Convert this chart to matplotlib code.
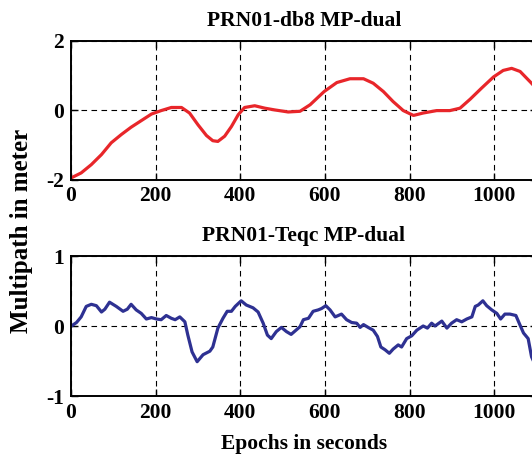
import numpy as np
import matplotlib
matplotlib.use('Agg')
from matplotlib import pyplot as plt

# PRN01-db8 MP-dual
db8_t = [1, 24, 48, 72, 95, 119, 142, 166, 190, 213, 237, 261, 280, 300, 320,
         335, 347, 363, 379, 395, 410, 434, 458, 481, 513, 541, 565, 598, 628,
         659, 691, 714, 738, 761, 785, 809, 832, 864, 895, 919, 943, 970, 998,
         1021, 1041, 1061, 1088, 1100]
db8_mp = [-1.95, -1.81, -1.57, -1.28, -0.94, -0.70, -0.49, -0.30, -0.11, -0.01,
          0.08, 0.08, -0.08, -0.42, -0.73, -0.88, -0.90, -0.75, -0.47, -0.13,
          0.08, 0.13, 0.06, 0.01, -0.05, -0.03, 0.16, 0.54, 0.80, 0.91, 0.91,
          0.78, 0.54, 0.25, -0.01, -0.15, -0.08, -0.01, -0.01, 0.06, 0.32,
          0.64, 0.96, 1.15, 1.21, 1.12, 0.78, 0.62]

# PRN01-Teqc MP-dual
teqc_t = [1, 13, 24, 36, 48, 60, 72, 80, 91, 107, 123, 133, 142, 154, 166, 178,
          190, 202, 213, 225, 237, 246, 257, 269, 276, 286, 298, 312, 328, 335,
          347, 359, 369, 379, 388, 402, 414, 430, 442, 454, 464, 473, 485, 497,
          509, 520, 541, 549, 561, 572, 584, 592, 602, 612, 624, 639, 651, 663,
          675, 683, 691, 702, 714, 724, 732, 742, 752, 761, 773, 781, 793, 805,
          817, 832, 842, 852, 860, 876, 888, 899, 911, 923, 935, 947, 955, 962,
          973, 982, 994, 1006, 1015, 1025, 1037, 1051, 1061, 1069, 1080, 1088,
          1100]
teqc_mp = [0.00, 0.05, 0.13, 0.28, 0.31, 0.29, 0.20, 0.24, 0.34, 0.28, 0.21,
           0.24, 0.31, 0.23, 0.18, 0.10, 0.12, 0.10, 0.09, 0.15, 0.11, 0.09,
           0.13, 0.06, -0.13, -0.37, -0.51, -0.41, -0.36, -0.30, -0.03, 0.11,
           0.21, 0.21, 0.28, 0.36, 0.30, 0.26, 0.20, 0.04, -0.13, -0.18, -0.08,
           -0.02, -0.08, -0.12, -0.01, 0.09, 0.11, 0.21, 0.23, 0.25, 0.29, 0.23,
           0.13, 0.17, 0.09, 0.05, 0.04, -0.02, 0.02, -0.02, -0.06, -0.15,
           -0.30, -0.34, -0.39, -0.33, -0.27, -0.30, -0.18, -0.14, -0.06, 0.00,
           -0.03, 0.04, 0.00, 0.07, -0.03, 0.04, 0.09, 0.06, 0.10, 0.13, 0.28,
           0.30, 0.36, 0.29, 0.23, 0.18, 0.10, 0.17, 0.17, 0.15, 0.01, -0.10,
           -0.18, -0.44, -0.60]

xticks = [0, 200, 400, 600, 800, 1000]

plt.rcParams['font.family'] = ['Liberation Serif', 'DejaVu Serif']
plt.rcParams['font.weight'] = 'bold'
plt.rcParams['axes.unicode_minus'] = False

W, H = 532, 457
fig = plt.figure(figsize=(W / 100.0, H / 100.0), dpi=100, facecolor='w')

x0 = 71.0
pxu = 0.4233  # pixels per second
xmax = 1100
aw = xmax * pxu

ax1 = fig.add_axes([x0 / W, (H - 179.5) / H, aw / W, 138.5 / H])
ax2 = fig.add_axes([x0 / W, (H - 396.0) / H, aw / W, 140.0 / H])

ax1.plot(db8_t, db8_mp, color='#e8262a', lw=2.3, solid_joinstyle='round')
ax2.plot(teqc_t, teqc_mp, color='#2e3192', lw=2.3, solid_joinstyle='round')

ax1.set_ylim(-2, 2)
ax1.set_yticks([-2, 0, 2])
ax2.set_ylim(-1, 1)
ax2.set_yticks([-1, 0, 1])

ax1.set_title('PRN01-db8 MP-dual', fontsize=15.5, fontweight='bold', pad=11)
ax2.set_title('PRN01-Teqc MP-dual', fontsize=15.5, fontweight='bold', pad=11)

for ax in (ax1, ax2):
    ax.set_xlim(0, xmax)
    ax.set_xticks(xticks)
    ax.grid(True, color='k', linestyle=(0, (5, 4)), lw=0.8)
    ax.tick_params(direction='in', length=5, width=1, top=True, right=True,
                   labelsize=15.5, pad=5)
    for s in ax.spines.values():
        s.set_linewidth(1.4)
    for lab in ax.get_xticklabels() + ax.get_yticklabels():
        lab.set_fontweight('bold')

ax2.set_xlabel('Epochs in seconds', fontsize=15.5, fontweight='bold', labelpad=8)
fig.text(22.0 / W, 0.495, 'Multipath in meter', rotation=90, ha='center',
         va='center', fontsize=18, fontweight='bold')

fig.savefig('out.png', dpi=100)
